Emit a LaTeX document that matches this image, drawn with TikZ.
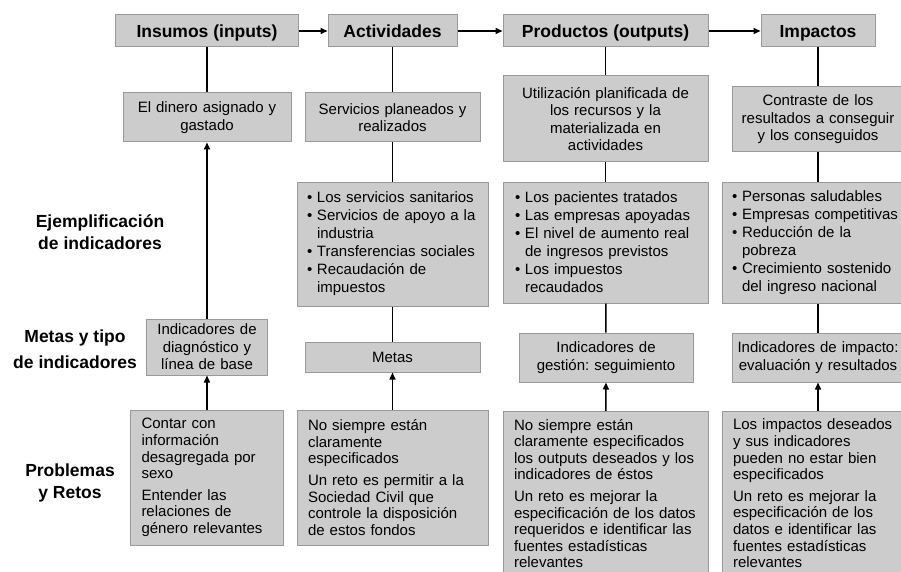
\documentclass[tikz,border=0pt]{standalone}
\usepackage{fontspec}
\setmainfont{Liberation Sans}
\usetikzlibrary{arrows.meta}
\frenchspacing
\newcommand{\itemdot}{\makebox[10pt][l]{\textbullet}}
\newcommand{\itemcont}{\hspace*{10pt}}
\tikzset{
    box/.style={draw=gray!80, fill=gray!40, line width=1pt, inner sep=0pt, font=\fontsize{15}{17.5}\selectfont},
    head/.style={box, minimum height=32pt, text height=12.6pt, text depth=0pt, font=\fontsize{17.5}{21}\selectfont\bfseries},
    textbox/.style={box, align=center},
    listbox/.style={box, align=left, font=\fontsize{15}{18}\selectfont},
    notebox/.style={box, align=left, font=\fontsize{15}{16.6}\selectfont},
    rowlabel/.style={align=center, font=\fontsize{17.5}{22}\selectfont\bfseries}
}

\begin{document}
\begin{tikzpicture}[
        x=1pt, y=-1pt,
        >={Triangle[length=7pt, width=6pt]},
        line width=1.5pt
    ]
        \useasboundingbox (0,0) rectangle (901,572);

        % headers
        \node[head, minimum width=183pt] (insumos) at (207,31) {Insumos (inputs)};
        \node[head, minimum width=129pt] (activ) at (392.5,31) {Actividades};
        \node[head, minimum width=205pt] (product) at (605.5,31) {Productos (outputs)};
        \node[head, minimum width=114pt] (impact) at (818,31) {Impactos};

        % row labels
        \node[rowlabel] (ejlabel) at (100,232) {Ejemplificación\\de indicadores};
        \node[rowlabel] (metlabel) at (75,349) {Metas y tipo\\[4pt]de indicadores};
        \node[rowlabel] (problabel) at (70,483) {Problemas\\y Retos};

        % descriptions
        \node[textbox, minimum width=168pt, minimum height=49pt, text width=160pt] (dinero) at (207,117.5)
            {El dinero asignado y\\gastado};
        \node[textbox, minimum width=175pt, minimum height=49pt, text width=167pt] (servicios) at (392.5,117.5)
            {Servicios planeados y\\realizados};
        \node[textbox, minimum width=205pt, minimum height=86pt, text width=197pt] (utiliz) at (605.5,119)
            {Utilización planificada de\\los recursos y la\\materializada en\\actividades};
        \node[textbox, minimum width=172pt, minimum height=65pt, text width=164pt] (contraste) at (818,119.5)
            {Contraste de los\\resultados a conseguir\\y los conseguidos};

        % examples
        \node[listbox, minimum width=191pt, minimum height=124pt, text width=171pt] (ejact) at (392.5,244)
            {\itemdot Los servicios sanitarios\\
             \itemdot Servicios de apoyo a la\\
             \itemcont industria\\
             \itemdot Transferencias sociales\\
             \itemdot Recaudación de\\
             \itemcont impuestos};
        \node[listbox, minimum width=205pt, minimum height=121pt, text width=181pt] (ejprod) at (605.5,242.5)
            {\itemdot Los pacientes tratados\\
             \itemdot Las empresas apoyadas\\
             \itemdot El nivel de aumento real\\
             \itemcont de ingresos previstos\\
             \itemdot Los impuestos\\
             \itemcont recaudados};
        \node[listbox, minimum width=192pt, minimum height=121pt, text width=172pt] (ejimp) at (818,242.5)
            {\itemdot Personas saludables\\
             \itemdot Empresas competitivas\\
             \itemdot Reducción de la\\
             \itemcont pobreza\\
             \itemdot Crecimiento sostenido\\
             \itemcont del ingreso nacional};

        % indicators
        \node[textbox, minimum width=121pt, minimum height=56pt, text width=113pt] (diag) at (207,347)
            {Indicadores de\\diagnóstico y\\línea de base};
        \node[textbox, minimum width=175pt, minimum height=30pt, text width=167pt] (metas) at (392.5,357)
            {Metas};
        \node[textbox, minimum width=174pt, minimum height=49pt, text width=166pt] (gestion) at (606,357.5)
            {Indicadores de\\gestión: seguimiento};
        \node[textbox, minimum width=172pt, minimum height=49pt, text width=164pt] (evalimp) at (818,357.5)
            {Indicadores de impacto:\\evaluación y resultados};

        % problems
        \node[notebox, minimum width=153pt, minimum height=135pt, text width=131pt] (prob1) at (207,477.5)
            {Contar con\\información\\desagregada por\\sexo\\[5pt]
             Entender las\\relaciones de\\género relevantes};
        \node[notebox, minimum width=191pt, minimum height=135pt, text width=169pt] (prob2) at (392.5,477.5)
            {No siempre están\\claramente\\especificados\\[5pt]
             Un reto es permitir a la\\Sociedad Civil que\\controle la disposición\\de estos fondos};
        \node[notebox, anchor=north, minimum width=205pt, minimum height=164pt, text width=183pt] (prob3) at (605.5,411)
            {No siempre están\\claramente especificados\\los outputs deseados y los\\indicadores de éstos\\[5pt]
             Un reto es mejorar la\\especificación de los datos\\requeridos e identificar las\\fuentes estadísticas\\relevantes};
        \node[notebox, anchor=north, minimum width=192pt, minimum height=164pt, text width=170pt] (prob4) at (818,411)
            {Los impactos deseados\\y sus indicadores\\pueden no estar bien\\especificados\\[5pt]
             Un reto es mejorar la\\especificación de los\\datos e identificar las\\fuentes estadísticas\\relevantes};

        \path (insumos) edge[->] (activ)
              (activ) edge[->] (product)
              (product) edge[->] (impact);

        \path (insumos) edge (dinero)
              (diag) edge[->] (dinero)
              (prob1) edge[->] (diag);

        \path (activ) edge (servicios)
              (servicios) edge (ejact)
              (ejact) edge (metas)
              (prob2) edge[->] (metas);

        \path (product) edge (utiliz)
              (utiliz) edge (ejprod)
              (ejprod) edge (gestion)
              (prob3) edge[->] (gestion);

        \path (impact) edge (contraste)
              (contraste) edge (ejimp)
              (ejimp) edge (evalimp)
              (prob4) edge[->] (evalimp);
    \end{tikzpicture}
\end{document}
